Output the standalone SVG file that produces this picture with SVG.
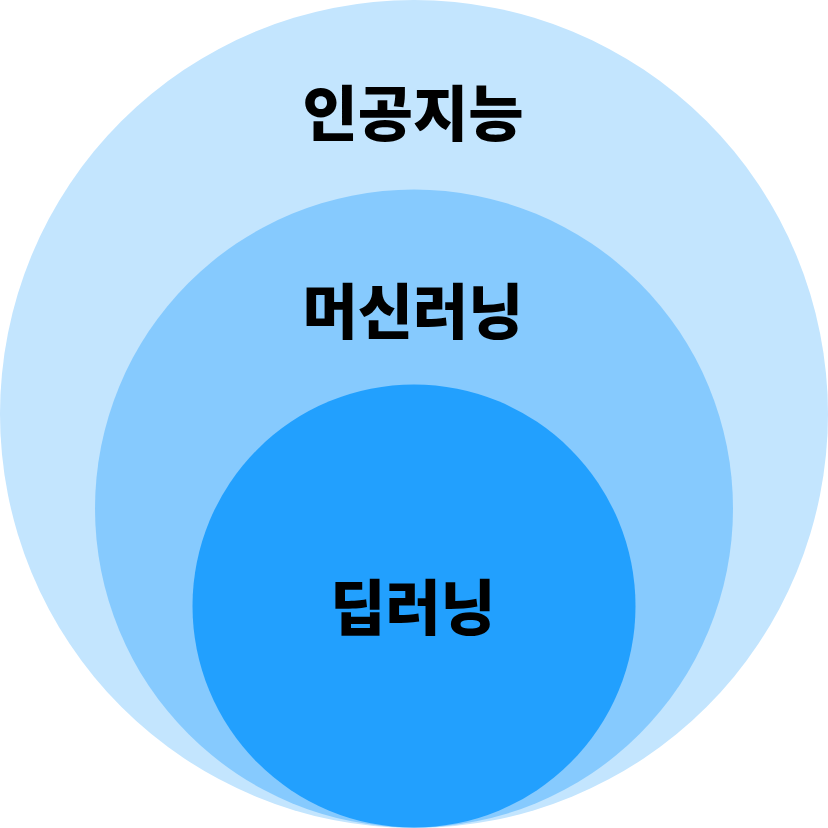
<svg xmlns="http://www.w3.org/2000/svg" width="828" height="828" viewBox="0 0 828 828">
<style>
.lbl{font-family:"Noto Sans CJK KR","Noto Sans",sans-serif;font-weight:900;font-size:60px;fill:#000;text-anchor:middle;dominant-baseline:central}
</style>
<rect width="828" height="828" fill="#ffffff"/>
<g id="ai">
<circle cx="414" cy="414" r="414" fill="#C3E5FE"/>
<text class="lbl" x="413" y="109">인공지능</text>
</g>
<g id="ml">
<circle cx="414" cy="508.5" r="319" fill="#86CAFE"/>
<text class="lbl" x="413" y="307">머신러닝</text>
</g>
<g id="dl">
<circle cx="414" cy="606" r="221.5" fill="#22A0FE"/>
<text class="lbl" x="413" y="603">딥러닝</text>
</g>
<g id="connectors"/>
</svg>
